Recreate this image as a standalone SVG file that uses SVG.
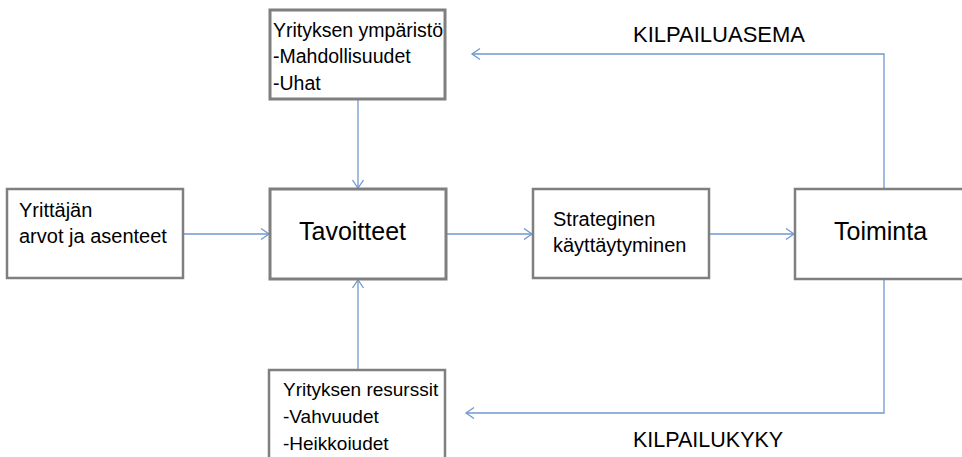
<svg xmlns="http://www.w3.org/2000/svg" width="962" height="457" viewBox="0 0 962 457">
<style>
.box{fill:#ffffff;stroke:#7f7f7f;stroke-width:2.5}
.t{font-family:"Liberation Sans",Arial,sans-serif;fill:#000000}
.c{fill:none;stroke:#6f98cf;stroke-width:1.3}
</style>
<defs>
<marker id="ah" markerUnits="userSpaceOnUse" markerWidth="14" markerHeight="14" viewBox="-10 -7 12 14" refX="0" refY="0" orient="auto">
<path d="M-8,-5.5 L0,0 L-8,5.5" fill="none" stroke="#6f98cf" stroke-width="1.3"/>
</marker>
</defs>
<rect width="962" height="457" fill="#ffffff"/>
<g id="connectors">
<line class="c" x1="183" y1="234" x2="269" y2="234" marker-end="url(#ah)"/>
<line class="c" x1="446" y1="234" x2="532" y2="234" marker-end="url(#ah)"/>
<line class="c" x1="709" y1="234" x2="794" y2="234" marker-end="url(#ah)"/>
<line class="c" x1="358" y1="100" x2="358" y2="188" marker-end="url(#ah)"/>
<line class="c" x1="358" y1="369" x2="358" y2="280" marker-end="url(#ah)"/>
<polyline class="c" points="884,189 884,54 472,54" marker-end="url(#ah)"/>
<polyline class="c" points="884,279 884,413 466,413" marker-end="url(#ah)"/>
</g>
<g id="ymparisto">
<rect class="box" x="270" y="10" width="175" height="89" style="stroke-width:3"/>
<text class="t" font-size="19.5"><tspan x="273" y="37">Yrityksen ympäristö</tspan><tspan x="273" y="63">-Mahdollisuudet</tspan><tspan x="273" y="90">-Uhat</tspan></text>
</g>
<g id="yrittaja">
<rect class="box" x="7" y="189" width="176" height="89"/>
<text class="t" font-size="20"><tspan x="19" y="217">Yrittäjän</tspan><tspan x="19" y="243">arvot ja asenteet</tspan></text>
</g>
<g id="tavoitteet">
<rect class="box" x="270" y="189" width="176" height="90" style="stroke-width:3"/>
<text class="t" font-size="25" x="299" y="240">Tavoitteet</text>
</g>
<g id="strateginen">
<rect class="box" x="533" y="189" width="176" height="89"/>
<text class="t" font-size="20"><tspan x="553" y="226">Strateginen</tspan><tspan x="553" y="252">käyttäytyminen</tspan></text>
</g>
<g id="toiminta">
<rect class="box" x="795" y="189" width="180" height="90"/>
<text class="t" font-size="25" x="834" y="240">Toiminta</text>
</g>
<g id="resurssit">
<rect class="box" x="269" y="370" width="176" height="100"/>
<text class="t" font-size="19"><tspan x="283" y="396">Yrityksen resurssit</tspan><tspan x="283" y="423">-Vahvuudet</tspan><tspan x="283" y="450">-Heikkoiudet</tspan></text>
</g>
<g id="labels">
<text class="t" font-size="22" x="633" y="42">KILPAILUASEMA</text>
<text class="t" font-size="21.5" x="633" y="447">KILPAILUKYKY</text>
</g>
</svg>
